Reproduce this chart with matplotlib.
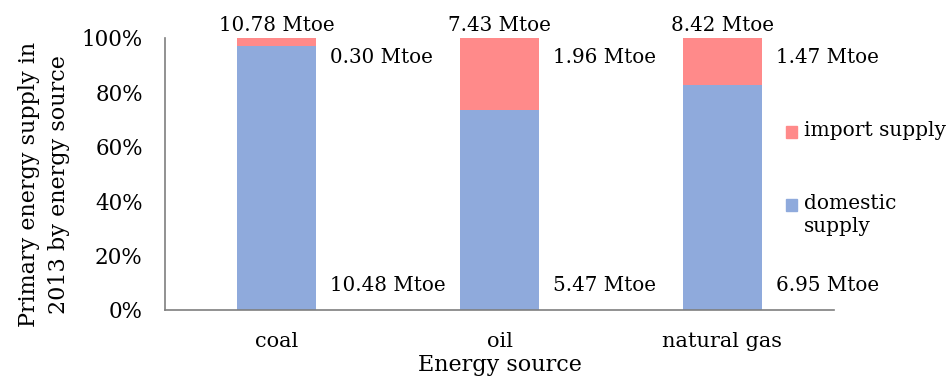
import matplotlib
matplotlib.use('Agg')
import matplotlib.pyplot as plt
from matplotlib.patches import Rectangle

# ── data ──
sources = ['coal', 'oil', 'natural gas']
domestic = [10.48, 5.47, 6.95]   # Mtoe
imports = [0.30, 1.96, 1.47]     # Mtoe
totals = [10.78, 7.43, 8.42]     # Mtoe
yticks = [0, 20, 40, 60, 80, 100]

BLUE = '#8FAADC'
PINK = '#FF8A8A'

plt.rcParams['font.family'] = ['DejaVu Serif']

fig = plt.figure(figsize=(9.5, 3.79), dpi=100)
ax = fig.add_axes([165 / 950, 1 - 310 / 379, 669 / 950, 272 / 379])

x = list(range(len(sources)))
dom_pct = [100 * d / (d + i) for d, i in zip(domestic, imports)]
imp_pct = [100 * i / (d + i) for d, i in zip(domestic, imports)]

ax.bar(x, dom_pct, width=0.355, color=BLUE, zorder=2)
ax.bar(x, imp_pct, bottom=dom_pct, width=0.355, color=PINK, zorder=2)

ax.set_xlim(-0.5, len(sources) - 0.5)
ax.set_ylim(0, 100)
ax.set_yticks(yticks)
ax.set_yticklabels([f'{t}%' for t in yticks], fontsize=15.5)
ax.set_xticks(x)
ax.set_xticklabels(sources, fontsize=15)
ax.tick_params(axis='both', length=0)
ax.tick_params(axis='y', pad=16)
ax.tick_params(axis='x', pad=16)

for s in ['top', 'right']:
    ax.spines[s].set_visible(False)
for s in ['left', 'bottom']:
    ax.spines[s].set_color('#7f7f7f')
    ax.spines[s].set_linewidth(1.2)

ax.set_xlabel('Energy source', fontsize=16, labelpad=2)
ax.set_ylabel('Primary energy supply in\n2013 by energy source', fontsize=16,
              linespacing=1.45)
ax.yaxis.set_label_coords(-0.142, 0.46)

# value labels
for xi, t, im, d in zip(x, totals, imports, domestic):
    ax.text(xi, 101, f'{t:.2f} Mtoe', ha='center', va='bottom', fontsize=14.3,
            clip_on=False)
    ax.text(xi + 0.24, 93, f'{im:.2f} Mtoe', ha='left', va='center', fontsize=14.3)
    ax.text(xi + 0.24, 9, f'{d:.2f} Mtoe', ha='left', va='center', fontsize=14.3)

# legend (manual, marker aligned to first text line)
legend_items = [(PINK, 'import supply', 132), (BLUE, 'domestic\nsupply', 205)]
for col, lab, ypx in legend_items:
    fig.patches.append(Rectangle((786 / 950, 1 - (ypx + 6) / 379), 11 / 950, 12 / 379,
                                 transform=fig.transFigure, color=col))
    fig.text(804 / 950, 1 - (ypx - 11) / 379, lab, ha='left', va='top',
             fontsize=14.5, linespacing=1.3)

fig.savefig('out.png', dpi=100)
